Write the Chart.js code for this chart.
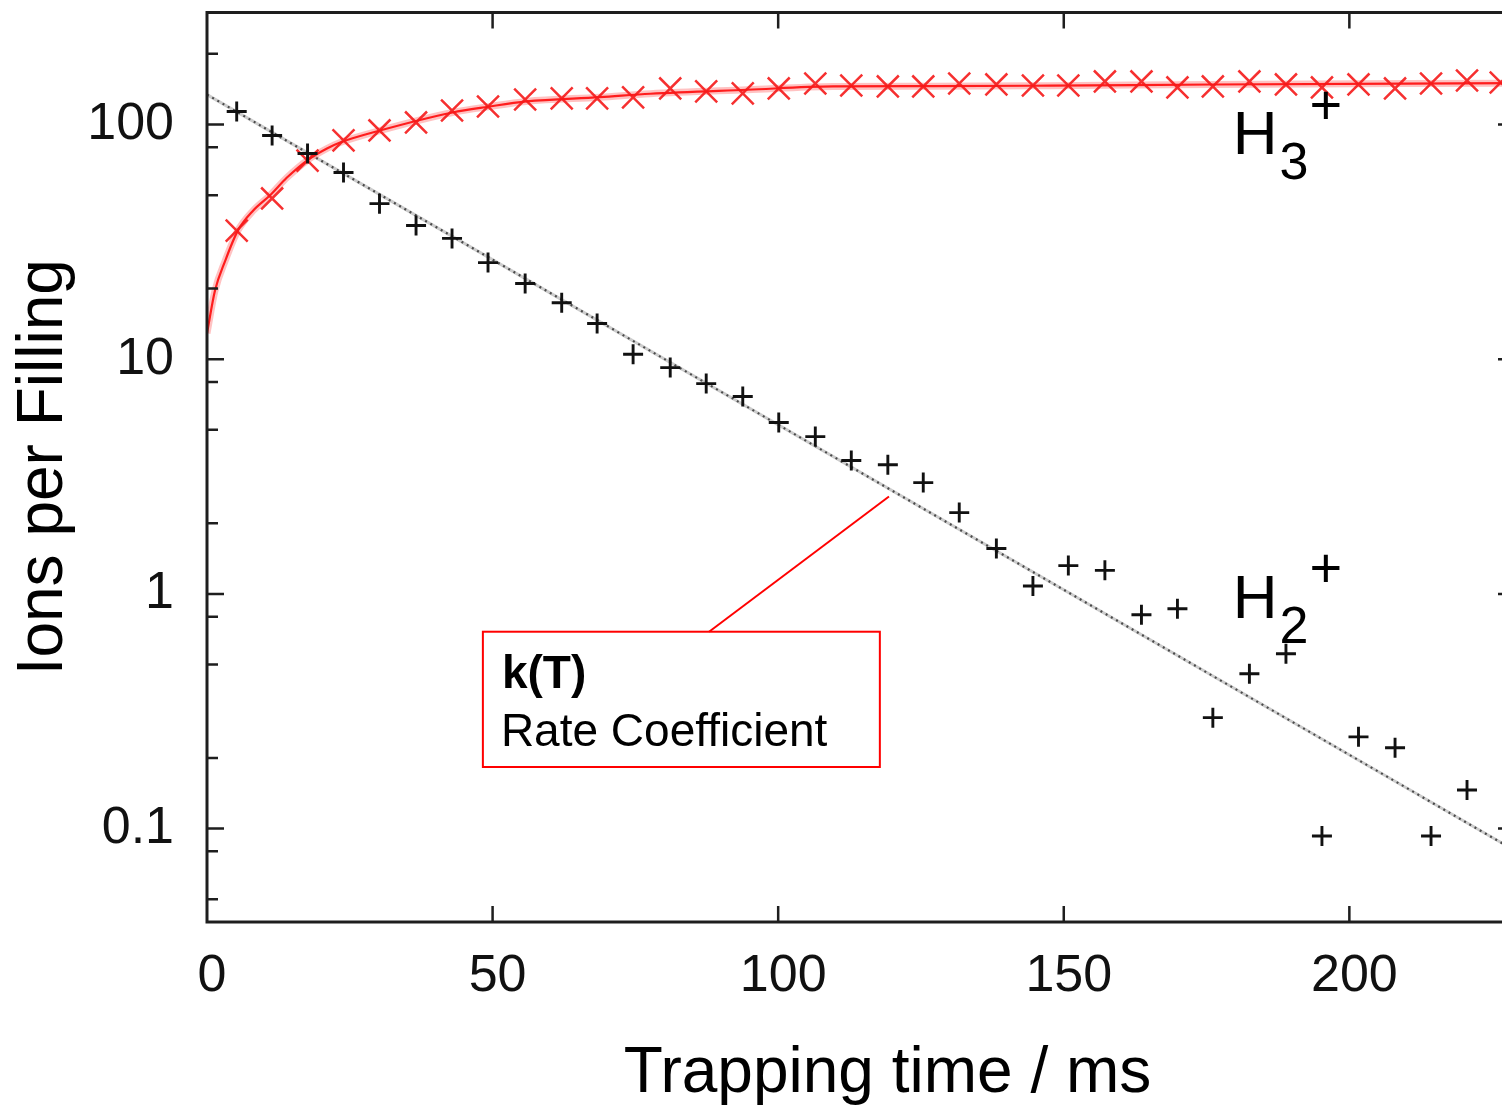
<!DOCTYPE html>
<html><head><meta charset="utf-8">
<script src="https://cdn.jsdelivr.net/npm/chart.js@4/dist/chart.umd.min.js"></script>
<style>
html,body{margin:0;padding:0;background:#fff;overflow:hidden;}
#wrap{width:1502px;height:1106px;overflow:hidden;position:relative;background:#fff;}
canvas{display:block;}
</style></head><body>
<div id="wrap"><canvas id="c" width="1520" height="1106"></canvas></div>
<script>
// ---- data ----
const timeMs = [5.2, 11.4, 17.6, 23.9, 30.2, 36.6, 42.9, 49.2, 55.7, 62.1, 68.3, 74.6, 81.1, 87.4, 93.8, 100.1, 106.5, 112.8, 119.2, 125.4, 131.7, 138.2, 144.6, 150.8, 157.2, 163.6, 169.9, 176.1, 182.5, 188.9, 195.2, 201.6, 208.0, 214.3, 220.6, 226.5];
const h3Ions = [35.3, 48.4, 70.2, 85.5, 94.3, 102.0, 114.7, 119.3, 127.8, 129.1, 129.1, 130.4, 142.4, 138.3, 135.6, 142.4, 149.5, 146.6, 145.2, 145.2, 149.5, 148.1, 146.6, 146.6, 152.5, 152.5, 143.8, 145.2, 152.5, 148.1, 143.8, 148.1, 142.4, 149.5, 154.0, 151.0];
const h2Ions = [113.6, 89.8, 75.2, 62.4, 46.0, 37.1, 32.7, 25.8, 21.0, 17.4, 14.2, 10.5, 9.21, 7.87, 6.93, 5.37, 4.68, 3.70, 3.55, 2.98, 2.22, 1.56, 1.08, 1.32, 1.26, 0.815, 0.865, 0.297, 0.457, 0.556, 0.093, 0.246, 0.221, 0.093, 0.146];
const fitH3Time = [0, 1.4, 3.2, 5.4, 8.1, 11.0, 14.0, 17.5, 21.0, 23.3, 30.1, 43.0, 49.2, 55.9, 68.8, 77.6, 94.6, 109.6, 127.1, 147.6, 176.0, 229.0];
const fitH3Ions = [12.9, 19.6, 26.3, 35.3, 43.0, 49.8, 59.4, 70.2, 79.0, 83.8, 94.0, 112.5, 119.0, 125.4, 130.7, 135.2, 140.6, 145.2, 145.6, 146.4, 148.0, 150.0];
const fitH2Time = [0, 227];
const fitH2Ions = [134, 0.086];
const xTickValues = [0, 50, 100, 150, 200];
const xTickLabels = ['0', '50', '100', '150', '200'];
const yMajorTicks = [0.1, 1, 10, 100];
const yTickLabels = ['0.1', '1', '10', '100'];
const yMinorTicks = [0.05, 0.08, 0.2, 0.5, 0.8, 2, 5, 8, 20, 50, 80, 200];
const xTitle = 'Trapping time / ms';
const yTitle = 'Ions per Filling';
const noteTitle = 'k(T)';
const noteText = 'Rate Coefficient';
// annotation anchors in data coordinates
const noteBox = {x0: 48.3, x1: 117.8, yTop: 0.69, yBottom: 0.183};
const notePointer = {x0: 87.9, y0: 0.69, x1: 119.4, y1: 2.6};
const h3Label = {x: 179.6, y: 74.5, sub: '3'};
const h2Label = {x: 179.6, y: 0.792, sub: '2'};

const FONT = '"Liberation Sans", Arial, sans-serif';
const pts = (xs, ys) => ys.map((v, i) => ({x: xs[i], y: v}));

const decor = {
  id: 'decor',
  afterDraw(chart) {
    const {ctx, chartArea: a, scales: {x, y}} = chart;
    ctx.save();
    // frame
    ctx.strokeStyle = '#1e1e1e';
    ctx.lineWidth = 3;
    ctx.strokeRect(a.left, a.top, a.right - a.left, a.bottom - a.top);
    // inward ticks
    ctx.beginPath();
    ctx.lineWidth = 2.5;
    xTickValues.forEach(v => {
      if (v === 0) return;
      const px = x.getPixelForValue(v);
      ctx.moveTo(px, a.bottom); ctx.lineTo(px, a.bottom - 16);
      ctx.moveTo(px, a.top); ctx.lineTo(px, a.top + 16);
    });
    yMajorTicks.forEach(v => {
      const py = y.getPixelForValue(v);
      ctx.moveTo(a.left, py); ctx.lineTo(a.left + 17, py);
      ctx.moveTo(a.right, py); ctx.lineTo(a.right - 17, py);
    });
    yMinorTicks.forEach(v => {
      const py = y.getPixelForValue(v);
      ctx.moveTo(a.left, py); ctx.lineTo(a.left + 11, py);
      ctx.moveTo(a.right, py); ctx.lineTo(a.right - 11, py);
    });
    ctx.stroke();

    // axis titles
    ctx.fillStyle = '#000';
    ctx.font = '64px ' + FONT;
    ctx.textAlign = 'center';
    ctx.textBaseline = 'alphabetic';
    ctx.fillText(xTitle, a.left + 680.5, 1092);
    ctx.save();
    ctx.translate(62, (a.top + a.bottom) / 2);
    ctx.rotate(-Math.PI / 2);
    ctx.fillText(yTitle, 0, 0);
    ctx.restore();

    // annotation box + pointer
    const bx0 = x.getPixelForValue(noteBox.x0), bx1 = x.getPixelForValue(noteBox.x1);
    const by0 = y.getPixelForValue(noteBox.yTop), by1 = y.getPixelForValue(noteBox.yBottom);
    ctx.fillStyle = '#fff';
    ctx.fillRect(bx0, by0, bx1 - bx0, by1 - by0);
    ctx.strokeStyle = '#ff0000';
    ctx.lineWidth = 2;
    ctx.strokeRect(bx0, by0, bx1 - bx0, by1 - by0);
    ctx.beginPath();
    ctx.moveTo(x.getPixelForValue(notePointer.x0), y.getPixelForValue(notePointer.y0));
    ctx.lineTo(x.getPixelForValue(notePointer.x1), y.getPixelForValue(notePointer.y1));
    ctx.stroke();
    ctx.fillStyle = '#000';
    ctx.textAlign = 'left';
    ctx.font = 'bold 46px ' + FONT;
    ctx.fillText(noteTitle, bx0 + 19, by0 + 56);
    ctx.font = '46px ' + FONT;
    ctx.fillText(noteText, bx0 + 18, by0 + 114);

    // species labels
    [h3Label, h2Label].forEach(l => {
      const px = x.getPixelForValue(l.x), py = y.getPixelForValue(l.y);
      ctx.textAlign = 'left';
      ctx.textBaseline = 'alphabetic';
      ctx.font = '62px ' + FONT;
      ctx.fillText('H', px, py);
      const w = ctx.measureText('H').width;
      ctx.font = '52px ' + FONT;
      ctx.fillText(l.sub, px + w + 2, py + 25);
      ctx.font = '56px ' + FONT;
      ctx.textAlign = 'center';
      ctx.textBaseline = 'middle';
      ctx.fillText('+', px + 93, py - 46);
    });
    ctx.restore();
  }
};

new Chart(document.getElementById('c'), {
  type: 'scatter',
  data: {
    datasets: [
      {label: 'H2+', data: pts(timeMs, h2Ions), pointStyle: 'cross', pointRadius: 10, pointBorderWidth: 2.9,
       borderColor: '#111', backgroundColor: '#111', showLine: false},
      {label: 'H3+', data: pts(timeMs, h3Ions), pointStyle: 'crossRot', pointRadius: 15.5, pointBorderWidth: 2.5,
       borderColor: 'rgba(245,25,25,0.9)', backgroundColor: 'rgba(245,25,25,0.9)', showLine: false},
      {label: 'H3+ fit', data: pts(fitH3Time, fitH3Ions), showLine: true, pointRadius: 0, borderWidth: 2.2,
       borderColor: 'rgba(255,0,0,0.85)', cubicInterpolationMode: 'monotone', fill: false},
      {label: 'H3+ fit band', data: pts(fitH3Time, fitH3Ions), showLine: true, pointRadius: 0, borderWidth: 7,
       borderColor: 'rgba(255,120,120,0.45)', cubicInterpolationMode: 'monotone', fill: false},
      {label: 'H2+ fit', data: pts(fitH2Time, fitH2Ions), showLine: true, pointRadius: 0, borderWidth: 2.2,
       borderColor: 'rgba(60,60,60,0.9)', borderDash: [2, 4], fill: false},
      {label: 'H2+ fit base', data: pts(fitH2Time, fitH2Ions), showLine: true, pointRadius: 0, borderWidth: 3,
       borderColor: 'rgba(200,200,200,0.9)', fill: false}
    ]
  },
  options: {
    responsive: false,
    animation: false,
    devicePixelRatio: 1,
    layout: {autoPadding: false, padding: {top: 12.5, right: 5, bottom: 0, left: 0}},
    plugins: {legend: {display: false}, tooltip: {enabled: false}},
    scales: {
      x: {
        type: 'linear', min: 0, max: 229,
        afterBuildTicks: s => { s.ticks = xTickValues.map(v => ({value: v})); },
        afterFit: s => { s.height = 184; s.paddingLeft = 0; s.paddingRight = 0; s.paddingTop = 0; s.paddingBottom = 0; },
        grid: {display: false, drawTicks: false},
        border: {display: false},
        ticks: {padding: 23, labelOffset: 5, color: '#111', font: {family: FONT, size: 52}, maxRotation: 0, autoSkip: false,
                callback: v => xTickLabels[xTickValues.indexOf(v)]}
      },
      y: {
        type: 'logarithmic', min: 0.04, max: 300,
        afterBuildTicks: s => { s.ticks = yMajorTicks.map(v => ({value: v})); },
        afterFit: s => { s.width = 207; s.paddingLeft = 0; s.paddingRight = 0; s.paddingTop = 0; s.paddingBottom = 0; },
        grid: {display: false, drawTicks: false},
        border: {display: false},
        ticks: {padding: 33, color: '#111', font: {family: FONT, size: 52}, autoSkip: false,
                callback: v => yTickLabels[yMajorTicks.indexOf(v)]}
      }
    }
  },
  plugins: [decor]
});
</script>
</body></html>
